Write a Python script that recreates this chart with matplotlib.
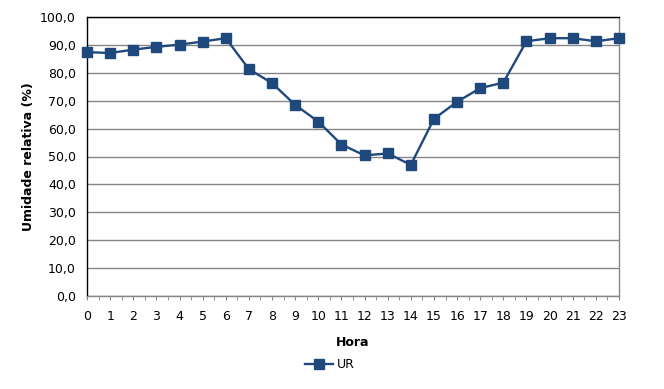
import matplotlib
matplotlib.use("Agg")
import matplotlib.pyplot as plt
from matplotlib.ticker import MultipleLocator, FuncFormatter

hours = list(range(24))
ur = [87.4, 87.1, 88.3, 89.3, 90.1, 91.2, 92.4, 81.3, 76.3, 68.5, 62.5, 54.3,
      50.4, 51.1, 47.0, 63.5, 69.6, 74.5, 76.5, 91.3, 92.4, 92.4, 91.3, 92.4]
series_name = "UR"
xlabel = "Hora"
ylabel = "Umidade relativa (%)"

plt.rcParams['font.family'] = ['DejaVu Sans']
fig = plt.figure(figsize=(6.64, 3.89), dpi=100)
ax = fig.add_axes([87/664, 1-296/389, (619-87)/664, (296-17)/389])

color = '#1F497D'
ax.plot(hours, ur, color=color, lw=1.7, marker='s', markersize=7.6, label=series_name, clip_on=False, zorder=3)

ax.set_xlim(0, 23)
ax.set_ylim(0, 100)
ax.yaxis.set_major_locator(MultipleLocator(10))
ax.yaxis.set_major_formatter(FuncFormatter(lambda v, p: f"{v:.1f}".replace('.', ',')))
ax.set_xticks(hours)
ax.xaxis.set_minor_locator(MultipleLocator(0.5))
ax.grid(axis='y', color='#868686', lw=1.0)
ax.set_axisbelow(True)

for s in ['left', 'top']:
    ax.spines[s].set_color('black')
    ax.spines[s].set_linewidth(1.0)
for s in ['right', 'bottom']:
    ax.spines[s].set_color('#868686')
    ax.spines[s].set_linewidth(1.0)

ax.tick_params(axis='y', length=0, labelsize=9, pad=8)
ax.tick_params(axis='x', which='both', direction='out', length=3, color='#868686', labelsize=9, pad=7)

ax.set_xlabel(xlabel, fontweight='bold', fontsize=9, labelpad=9.5)
ax.set_ylabel(ylabel, fontweight='bold', fontsize=9, labelpad=3.5)

leg = fig.legend(loc='center', bbox_to_anchor=(330/664, 1-365/389), frameon=False, fontsize=9,
                 handlelength=2.2, handletextpad=0.3)

fig.savefig("out.png", dpi=100)
